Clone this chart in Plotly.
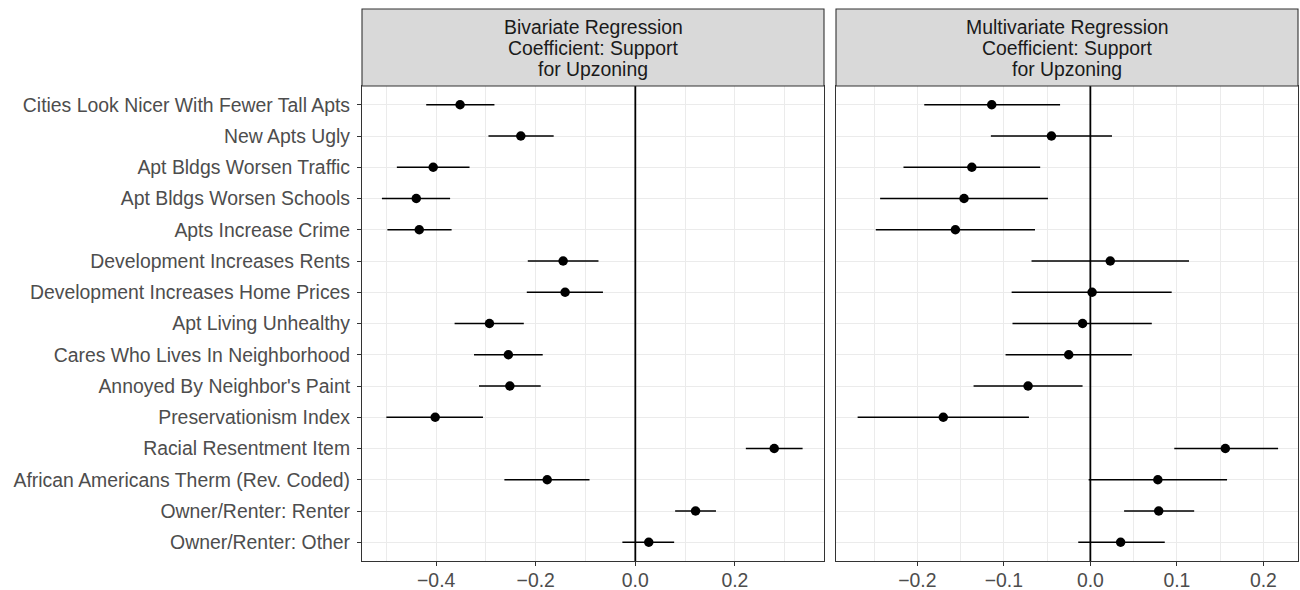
import plotly.graph_objects as go

# Predictors, top to bottom
variables = [
    "Cities Look Nicer With Fewer Tall Apts",
    "New Apts Ugly",
    "Apt Bldgs Worsen Traffic",
    "Apt Bldgs Worsen Schools",
    "Apts Increase Crime",
    "Development Increases Rents",
    "Development Increases Home Prices",
    "Apt Living Unhealthy",
    "Cares Who Lives In Neighborhood",
    "Annoyed By Neighbor's Paint",
    "Preservationism Index",
    "Racial Resentment Item",
    "African Americans Therm (Rev. Coded)",
    "Owner/Renter: Renter",
    "Owner/Renter: Other",
]

# Bivariate regression: estimate and 95% interval
biv_est = [-0.352, -0.230, -0.406, -0.440, -0.434, -0.145, -0.141, -0.293,
           -0.255, -0.252, -0.402, 0.279, -0.177, 0.121, 0.027]
biv_lo = [-0.420, -0.295, -0.479, -0.509, -0.498, -0.216, -0.218, -0.363,
          -0.324, -0.314, -0.500, 0.222, -0.263, 0.080, -0.026]
biv_hi = [-0.283, -0.164, -0.333, -0.372, -0.369, -0.074, -0.065, -0.224,
          -0.186, -0.190, -0.306, 0.336, -0.092, 0.162, 0.078]

# Multivariate regression: estimate and 95% interval
mv_est = [-0.114, -0.045, -0.137, -0.146, -0.156, 0.023, 0.002, -0.009,
          -0.025, -0.072, -0.170, 0.156, 0.078, 0.079, 0.035]
mv_lo = [-0.192, -0.115, -0.216, -0.243, -0.248, -0.068, -0.091, -0.090,
         -0.098, -0.135, -0.269, 0.097, -0.002, 0.039, -0.014]
mv_hi = [-0.035, 0.025, -0.058, -0.049, -0.064, 0.114, 0.094, 0.071,
         0.048, -0.009, -0.071, 0.217, 0.158, 0.120, 0.086]

# Facet strip titles, one list of lines per panel
panel_titles = [
    ["Bivariate Regression", "Coefficient: Support", "for Upzoning"],
    ["Multivariate Regression", "Coefficient: Support", "for Upzoning"],
]

W, H = 1300, 590
FONT = "Liberation Sans, Arial, sans-serif"
FS = 19.4
BORDER = "#333333"
GRID = "#EBEBEB"

# pixel layout of the two panels
left_px = [(362, 824), (836, 1298)]
panel_top, panel_bot = 86, 561
strip_top = 9
strip_lines_px = [27.3, 48.0, 68.7]


def px_x(p):
    return p / W


def px_y(p):
    return 1 - p / H


fig = go.Figure()


def add_panel(est, lo, hi, xa, ya):
    fig.add_trace(go.Scatter(
        x=est, y=variables, mode="markers",
        marker=dict(color="black", size=9.5),
        error_x=dict(type="data", symmetric=False,
                     array=[h - e for h, e in zip(hi, est)],
                     arrayminus=[e - l for e, l in zip(est, lo)],
                     color="black", thickness=1.7, width=0),
        xaxis=xa, yaxis=ya, showlegend=False, hoverinfo="x+y",
    ))


add_panel(biv_est, biv_lo, biv_hi, "x", "y")
add_panel(mv_est, mv_lo, mv_hi, "x2", "y2")

axis_common = dict(
    automargin=False,
    showline=True, mirror=True, linecolor=BORDER, linewidth=1.1,
    showgrid=True, gridcolor=GRID, gridwidth=1.1, zeroline=False,
    ticks="outside", ticklen=4, tickcolor=BORDER, tickwidth=1.1,
    tickfont=dict(family=FONT, size=FS, color="#4D4D4D"),
)

ydom = [px_y(panel_bot), px_y(panel_top)]
yaxis_common = dict(
    axis_common, type="category", categoryarray=variables,
    range=[len(variables) - 0.4, -0.6], domain=ydom,
)

fig.update_layout(
    width=W, height=H,
    margin=dict(l=0, r=0, t=0, b=0),
    paper_bgcolor="white", plot_bgcolor="white",
    font=dict(family=FONT),
    xaxis=dict(axis_common, domain=[px_x(left_px[0][0]), px_x(left_px[0][1])],
               range=[-0.549, 0.379], tickvals=[-0.4, -0.2, 0.0, 0.2],
               tickformat=".1f", anchor="y", ticklabelstandoff=-2,
               minor=dict(tickvals=[-0.5, -0.3, -0.1, 0.1, 0.3], showgrid=True,
                          gridcolor=GRID, gridwidth=0.6, ticks="")),
    xaxis2=dict(axis_common, domain=[px_x(left_px[1][0]), px_x(left_px[1][1])],
                range=[-0.294, 0.240], tickvals=[-0.2, -0.1, 0.0, 0.1, 0.2],
                tickformat=".1f", anchor="y2", ticklabelstandoff=-2,
                minor=dict(tickvals=[-0.25, -0.15, -0.05, 0.05, 0.15], showgrid=True,
                           gridcolor=GRID, gridwidth=0.6, ticks="")),
    yaxis=dict(yaxis_common, anchor="x", ticklabelstandoff=3),
    yaxis2=dict(yaxis_common, anchor="x2", showticklabels=False, ticks=""),
)

shapes = []
annotations = []
for i, (x0, x1) in enumerate(left_px):
    xr = "x" if i == 0 else "x2"
    yr = "y" if i == 0 else "y2"
    # reference line at zero
    shapes.append(dict(type="line", xref=xr, yref=f"{yr} domain",
                       x0=0, x1=0, y0=0, y1=1,
                       line=dict(color="black", width=1.8), layer="above"))
    # facet strip
    shapes.append(dict(type="rect", xref="paper", yref="paper",
                       x0=px_x(x0), x1=px_x(x1),
                       y0=px_y(panel_top), y1=px_y(strip_top),
                       fillcolor="#D9D9D9", line=dict(color=BORDER, width=1.1)))
    for line_text, ly in zip(panel_titles[i], strip_lines_px):
        annotations.append(dict(xref="paper", yref="paper",
                                x=px_x((x0 + x1) / 2), y=px_y(ly),
                                text=line_text, showarrow=False,
                                xanchor="center", yanchor="middle",
                                font=dict(family=FONT, size=FS, color="#1A1A1A")))

fig.update_layout(shapes=shapes, annotations=annotations)

fig.write_html("out.html")
